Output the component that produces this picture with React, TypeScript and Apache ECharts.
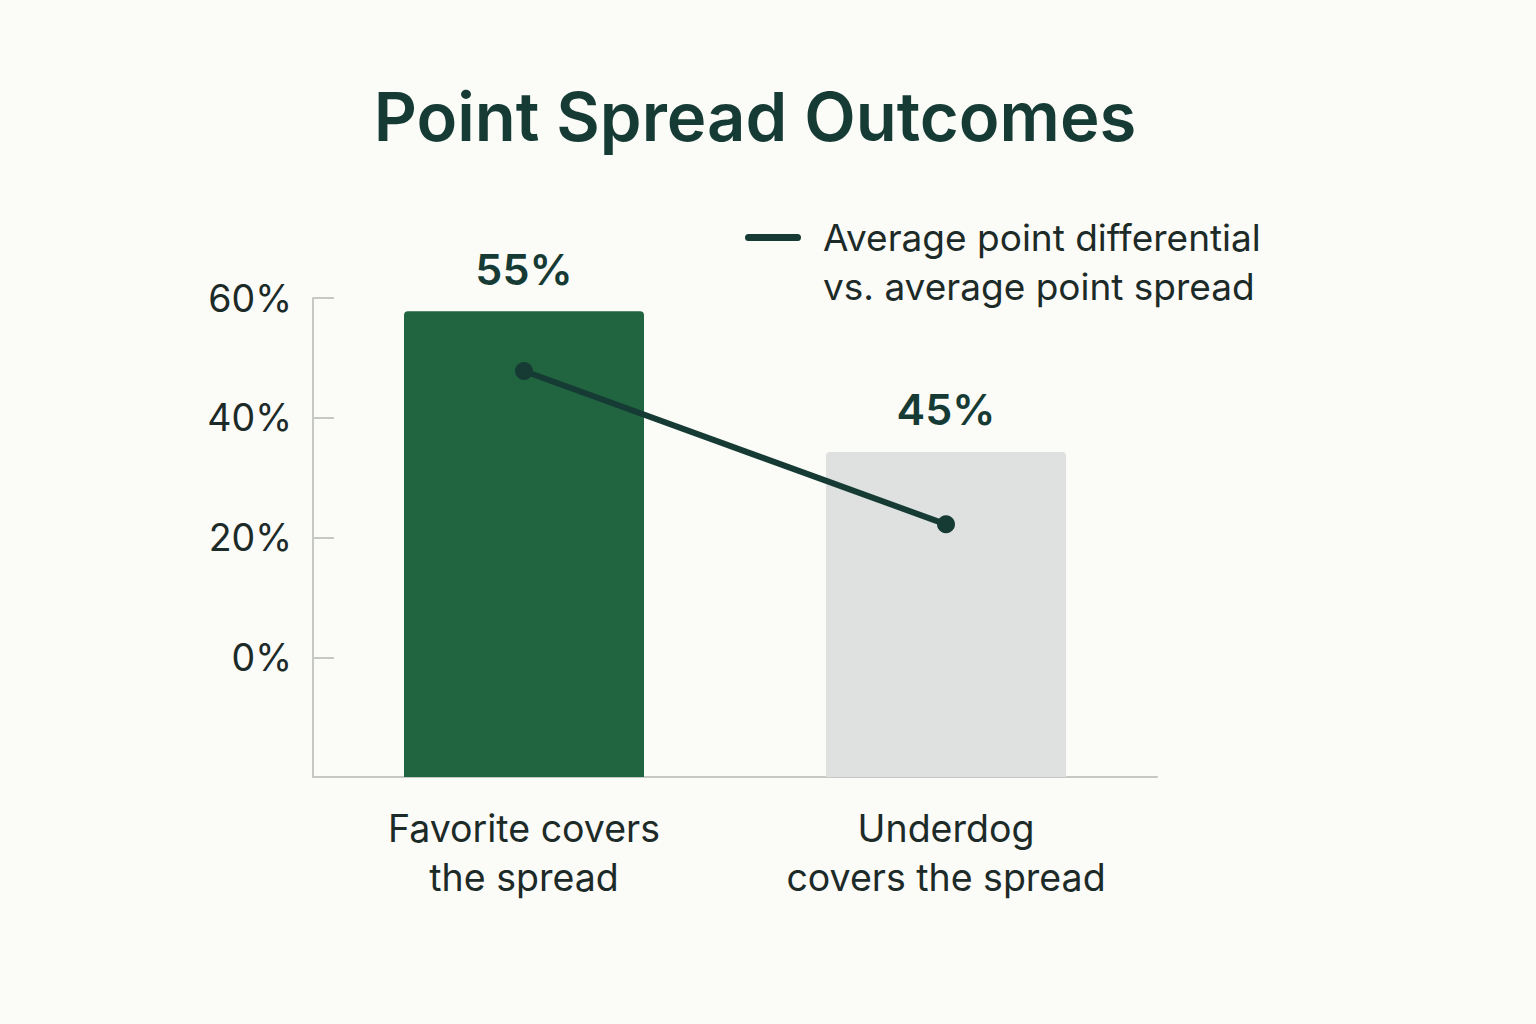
import React, { useEffect, useRef } from "react";
import * as echarts from "echarts";

const categories = ["Favorite covers\nthe spread", "Underdog\ncovers the spread"];
// bar heights as drawn, in axis percent units
const barValues = [57.8, 34.3];
const barLabels = ["55%", "45%"];
const barColors = ["#216440", "#dee1df"];
// average point differential line, in axis percent units
const lineValues = [47.8, 22.2];
const yTicks = [0, 20, 40, 60];
const legendText = ["Average point differential", "vs. average point spread"];
const AXIS_BASE = -20; // axis bottom sits at -20%

const FONT = "Inter, 'Noto Sans', sans-serif";
const DARK = "#163b35";
const TEXT = "#1c2a28";

export default function App() {
  const ref = useRef<HTMLDivElement>(null);
  useEffect(() => {
    if (!ref.current) return;
    const chart = echarts.init(ref.current, null, { renderer: "svg" });
    const off = (v: number) => v - AXIS_BASE;
    chart.setOption({
      animation: false,
      backgroundColor: "#fbfbf7",
      title: {
        text: "Point Spread Outcomes",
        left: 750,
        top: 78,
        textAlign: "center",
        textStyle: { fontFamily: FONT, fontSize: 67, fontWeight: 600, color: DARK },
      },
      grid: { left: 313, right: 379, top: 298, bottom: 247 },
      xAxis: {
        type: "category",
        data: categories,
        axisLine: { lineStyle: { color: "#c6c8c6", width: 2 } },
        axisTick: { show: false },
        axisLabel: {
          fontFamily: FONT,
          fontSize: 37.5,
          lineHeight: 49,
          color: TEXT,
          margin: 27,
        },
      },
      yAxis: {
        type: "value",
        min: 0,
        max: 80,
        interval: 20,
        axisLine: { show: true, lineStyle: { color: "#c6c8c6", width: 2 } },
        axisTick: { show: true, inside: true, length: 21, lineStyle: { color: "#c6c8c6", width: 2 } },
        splitLine: { show: false },
        axisLabel: {
          fontFamily: FONT,
          fontSize: 37.5,
          color: TEXT,
          margin: 21,
          formatter: (v: number) => {
            const real = v + AXIS_BASE;
            return yTicks.includes(real) ? real + "%" : "";
          },
        },
      },
      graphic: [
        {
          type: "rect",
          left: 745,
          top: 234,
          shape: { width: 56, height: 7, r: 3.5 },
          style: { fill: DARK },
        },
        {
          type: "text",
          left: 823,
          top: 213,
          style: {
            text: legendText.join("\n"),
            font: `37px ${FONT}`,
            lineHeight: 49,
            fill: TEXT,
          },
        },
      ],
      series: [
        {
          type: "bar",
          barWidth: 240,
          data: barValues.map((v, i) => ({
            value: off(v),
            itemStyle: { color: barColors[i], borderRadius: [4, 4, 0, 0] },
          })),
          label: {
            show: true,
            position: "top",
            distance: 21,
            fontFamily: FONT,
            fontSize: 43,
            fontWeight: 600,
            color: DARK,
            formatter: (p: any) => barLabels[p.dataIndex],
          },
        },
        {
          type: "line",
          data: lineValues.map(off),
          symbol: "circle",
          symbolSize: 18,
          lineStyle: { color: DARK, width: 6 },
          itemStyle: { color: DARK },
          z: 5,
        },
      ],
    });
    return () => chart.dispose();
  }, []);
  return (
    <div
      ref={ref}
      style={{ position: "fixed", left: 0, top: 0, width: 1536, height: 1024 }}
    />
  );
}
